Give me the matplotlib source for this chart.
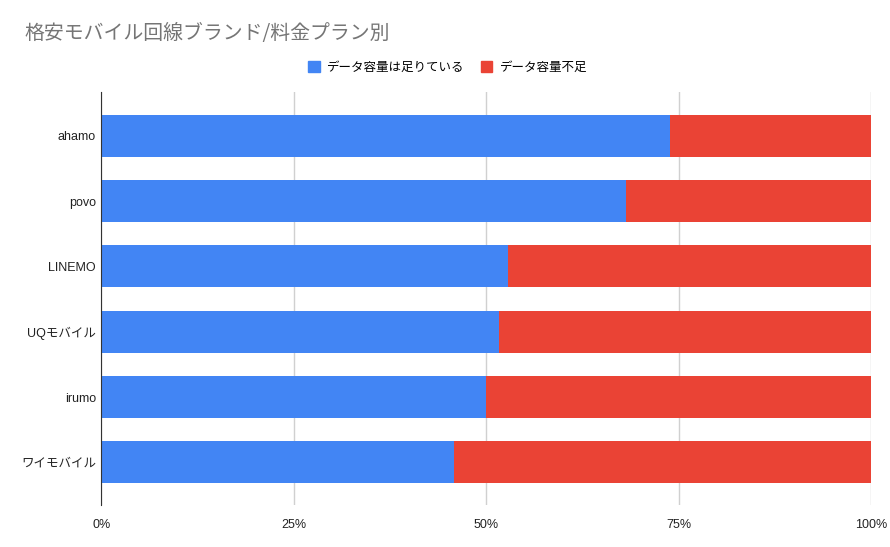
import matplotlib
matplotlib.use("Agg")
import matplotlib.pyplot as plt
from matplotlib.ticker import PercentFormatter
from matplotlib.patches import Patch

plt.rcParams['font.family'] = ['Liberation Sans', 'Noto Sans CJK JP', 'DejaVu Sans']

brands = ['ahamo', 'povo', 'LINEMO', 'UQモバイル', 'irumo', 'ワイモバイル']
enough = [73.9, 68.2, 52.8, 51.7, 50.0, 45.8]
short = [100 - v for v in enough]
series_names = ['データ容量は足りている', 'データ容量不足']
colors = ['#4285F4', '#EA4335']

fig = plt.figure(figsize=(8.9, 5.47), dpi=100)
ax = fig.add_axes([0.114, 0.077, 0.865, 0.755])

y = list(range(len(brands)))
ax.barh(y, enough, height=0.64, color=colors[0], zorder=3)
ax.barh(y, short, left=enough, height=0.64, color=colors[1], zorder=3)

ax.set_xlim(0, 100)
ax.set_ylim(5.65, -0.67)
ax.set_xticks([0, 25, 50, 75, 100])
ax.xaxis.set_major_formatter(PercentFormatter(decimals=0))
ax.set_yticks(y)
ax.set_yticklabels(brands)
ax.tick_params(axis='both', length=0, labelsize=9, colors='#222222')
ax.tick_params(axis='x', pad=10)
ax.tick_params(axis='y', pad=4)
ax.grid(axis='x', color='#d0d0d0', linewidth=1, zorder=0)
for s in ['top', 'right', 'bottom']:
    ax.spines[s].set_visible(False)
ax.spines['left'].set_color('#333333')
ax.spines['left'].set_zorder(4)

fig.text(0.028, 0.938, '格安モバイル回線ブランド/料金プラン別', fontsize=14.3,
         color='#757575', family=['Noto Sans CJK JP', 'DejaVu Sans'], va='center')

handles = [Patch(color=c) for c in colors]
fig.legend(handles, series_names, loc='center', bbox_to_anchor=(0.503, 0.877),
           ncol=2, frameon=False, handlelength=0.9, handleheight=0.9,
           columnspacing=1.3, handletextpad=0.6,
           prop={'family': ['Noto Sans CJK JP', 'DejaVu Sans'], 'size': 9})

fig.savefig('out.png', dpi=100)
plt.close(fig)
